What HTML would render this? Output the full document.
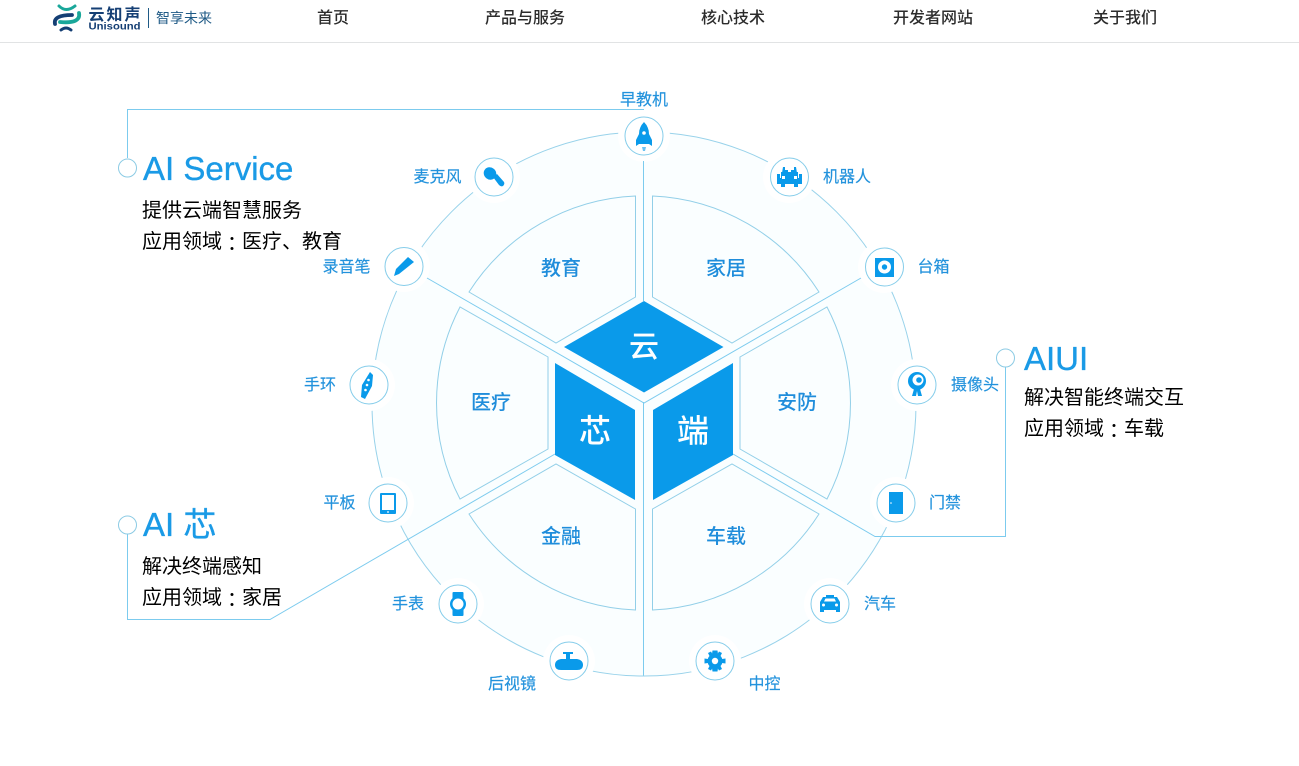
<!DOCTYPE html>
<html><head><meta charset="utf-8"><style>
html,body{margin:0;padding:0;background:#fff}
svg{display:block}
text{font-family:"Liberation Sans","Noto Sans CJK SC",sans-serif}
.n{font-size:16px;fill:#2c2c2c;text-anchor:middle;font-weight:500}
.l{font-size:16px;fill:#2292dc;text-anchor:middle;font-weight:400;stroke:#2292dc;stroke-width:.15}
.s{font-size:20px;fill:#1f8ddb;text-anchor:middle;font-weight:500}
.h{font-size:32px;fill:#fff;text-anchor:middle;font-weight:500}
.t{font-size:33px;fill:#1a9ae6;stroke:#1a9ae6;stroke-width:.35}
.d{font-size:20px;fill:#000}
.c{font-family:"Liberation Sans","Noto Sans CJK TC",sans-serif}
</style></head><body>
<svg width="1299" height="766" viewBox="0 0 1299 766" xmlns="http://www.w3.org/2000/svg">
<rect width="1299" height="766" fill="#fff"/>
<rect y="42" width="1299" height="1" fill="#e1e3e4"/>
<!-- logo -->
<g fill="none" stroke-linecap="round">
<path d="M59 6Q66 13 75 6" stroke="#1aa79a" stroke-width="3"/>
<path d="M55 24Q53 15 72 15" stroke="#153f74" stroke-width="3.800"/>
<path d="M79 13Q81 24 60 22" stroke="#1aa79a" stroke-width="3.800"/>
<path d="M61 30Q66 26 71 30" stroke="#153f74" stroke-width="3"/>
</g>
<text x="88.500" y="20" font-size="16" font-weight="700" fill="#153f74" textLength="52">云知声</text>
<text x="88.500" y="29.500" font-size="10" font-weight="700" fill="#153f74" textLength="52" lengthAdjust="spacingAndGlyphs">Unisound</text>
<rect x="148" y="8" width="1" height="20" fill="#1f5a86"/>
<text x="156" y="23" font-size="14" fill="#1f5a86">智享未来</text>
<text class="n" x="333" y="23">首页</text>
<text class="n" x="525" y="23">产品与服务</text>
<text class="n" x="733" y="23">核心技术</text>
<text class="n" x="933" y="23">开发者网站</text>
<text class="n" x="1125" y="23">关于我们</text>

<!-- main disc -->
<circle cx="644" cy="404" r="272" fill="#fafeff" stroke="#98d2ea" stroke-width="1"/>
<g fill="#fff">
<circle cx="644" cy="136" r="26"/><circle cx="494" cy="177" r="26"/><circle cx="789" cy="177" r="26"/>
<circle cx="404" cy="266" r="26"/><circle cx="884" cy="267" r="26"/><circle cx="369" cy="385" r="26"/>
<circle cx="917" cy="385" r="26"/><circle cx="388" cy="503" r="26"/><circle cx="896" cy="503" r="26"/>
<circle cx="458" cy="604" r="26"/><circle cx="830" cy="604" r="26"/><circle cx="569" cy="661" r="26"/>
<circle cx="715" cy="661" r="26"/>
</g>
<!-- dividers -->
<g fill="none" stroke="#7ccbee" stroke-width="1">
<path d="M643.500 161V301M643.500 402V675.500"/>
<path d="M427 278L644 403L861 278"/>
<path d="M127.500 158V109.500H644"/>
<path d="M127.500 534V619.500H270L555 454"/>
<path d="M733 454L875 536.500H1005.500V367"/>
</g>
<circle cx="127.500" cy="168" r="9" fill="#fff" stroke="#8ccbe4"/>
<circle cx="127.500" cy="525" r="9" fill="#fff" stroke="#8ccbe4"/>
<circle cx="1005.500" cy="358" r="9" fill="#fff" stroke="#8ccbe4"/>
<!-- sectors -->
<g fill="#fafeff" stroke="#92cfe8" stroke-width="1" stroke-linejoin="miter">
<path d="M635.500 297V196A208 208 0 0 0 469 292L556 343Z"/>
<path d="M652.500 297V196A208 208 0 0 1 819 292L732 343Z"/>
<path d="M548 357L460 307A208 208 0 0 0 460 499L548 449Z"/>
<path d="M740 357L827 307A208 208 0 0 1 827 499L740 449Z"/>
<path d="M635.500 509L556 464L469 514A208 208 0 0 0 635.500 610Z"/>
<path d="M652.500 509L732 464L819 514A208 208 0 0 1 652.500 610Z"/>
</g>
<!-- hexagon -->
<g fill="#0a9aea">
<path d="M644 301L723.500 347L644 392.500L564 347Z"/>
<path d="M555 363L635 410V500L555 455Z"/>
<path d="M733 363L653 410V500L733 455Z"/>
</g>
<text class="h" x="644" y="357" style="font-size:30px">云</text>
<text class="h" x="595" y="442">芯</text>
<text class="h" x="693" y="442">端</text>
<text class="s" x="561" y="275">教育</text>
<text class="s" x="726" y="275">家居</text>
<text class="s" x="491" y="409">医疗</text>
<text class="s" x="797" y="409">安防</text>
<text class="s" x="561" y="543">金融</text>
<text class="s" x="726" y="543">车载</text>
<!-- node rings -->
<g fill="#fff" stroke="#86cdea" stroke-width="1">
<circle cx="644" cy="136" r="19"/><circle cx="494" cy="177" r="19"/><circle cx="789.500" cy="177" r="19"/>
<circle cx="404" cy="266.500" r="19"/><circle cx="884.500" cy="267" r="19"/><circle cx="369" cy="385" r="19"/>
<circle cx="917" cy="385" r="19"/><circle cx="388" cy="503" r="19"/><circle cx="896" cy="503" r="19"/>
<circle cx="458" cy="604" r="19"/><circle cx="830" cy="604" r="19"/><circle cx="569" cy="661" r="19"/>
<circle cx="715" cy="661" r="19"/>
</g>
<!-- icons -->
<g fill="#0a9aea">
<path d="M644 122Q649 127 649 134V144H639V134Q639 127 644 122Z"/>
<path d="M639 134L636 140V146L639 144ZM649 134L652 140V146L649 144Z"/>
<path d="M642 147H646L645 151H643Z" opacity=".6"/>
<ellipse cx="490" cy="173.500" rx="6.500" ry="6" transform="rotate(40 490 173.500)"/>
<path d="M493 177L497 174L504 182Q505 184 503 186Q501 187 499 185Z"/>
<path d="M777 178H802V184H798V187H794V184H785V187H781V184H777Z"/>
<path d="M781 172H798V181H781Z"/>
<path d="M783 167H785V170H788V173H782ZM796 167H794V170H791V173H797Z"/>
<path d="M777 174H780V181H777ZM799 174H802V181H799Z"/>
<path d="M408 257L414 262L399 274L394 276L396 269Z"/>
<rect x="875" y="258" width="19" height="19"/>
<path d="M370 372L373 375L372 386L365 399L361 397L362 385Z"/>
<path d="M912 396L914 389H920L922 396H918L917 391L916 396Z"/>
<circle cx="917" cy="381" r="9"/>
<rect x="380" y="493" width="16" height="21" rx="1"/>
<rect x="889" y="492" width="14" height="22"/>
<rect x="452.500" y="592" width="11" height="24" rx="1"/>
<circle cx="458" cy="604" r="8"/>
<path d="M820 602L823 597H826V595H834V597H837L840 602Q840 609 840 612H836V610H824V612H820Z"/>
<circle cx="715" cy="661" r="7.500"/>
<path d="M712.500 650.500H717.500L718 654H712ZM712.500 671.500H717.500L718 668H712ZM704.500 658.500V663.500L708 663V659ZM725.500 658.500V663.500L722 663V659Z"/>
<path d="M708 653L711 651.500L713 655L710 657ZM722 653L719 651.500L717 655L720 657ZM708 669L711 670.500L713 667L710 665ZM722 669L719 670.500L717 667L720 665Z"/>
<path d="M555 665Q555 660 561 659H577Q583 660 583 665Q583 670 577 670H561Q555 670 555 665Z"/>
<path d="M563 652H573V654H570V659H566V654H563Z"/>
</g>
<g fill="#fff">
<circle cx="644" cy="133" r="1.800"/>
<circle cx="884.500" cy="267" r="6.500"/>
<rect x="382" y="495" width="12" height="15"/>
<circle cx="388" cy="512" r=".9"/>
<circle cx="891" cy="503" r=".8"/>
<circle cx="458" cy="604" r="5.500"/>
<circle cx="715" cy="661" r="3.200"/>
<circle cx="918" cy="380" r="5.500"/>
<circle cx="823.500" cy="605" r="1.500"/><circle cx="836.500" cy="605" r="1.500"/>
<path d="M824 601.500L825.500 598.500H834.500L836 601.500Z"/>
<circle cx="368.500" cy="380" r="1.300"/><circle cx="367" cy="385" r="1.300"/><circle cx="365.500" cy="390" r="1.300"/>
<rect x="782" y="176" width="3" height="3"/><rect x="794" y="176" width="3" height="3"/>
</g>
<circle cx="884.500" cy="267" r="2.700" fill="#0a9aea"/>
<circle cx="919" cy="380" r="2.800" fill="#0a9aea"/>
<!-- labels -->
<text class="l" x="644" y="105">早教机</text>
<text class="l" x="437.500" y="182">麦克风</text>
<text class="l" x="847" y="182">机器人</text>
<text class="l" x="346.500" y="272">录音笔</text>
<text class="l" x="933.500" y="272">台箱</text>
<text class="l" x="320" y="390">手环</text>
<text class="l" x="975" y="390">摄像头</text>
<text class="l" x="339.500" y="508">平板</text>
<text class="l" x="945" y="508">门禁</text>
<text class="l" x="408" y="609">手表</text>
<text class="l" x="880" y="609">汽车</text>
<text class="l" x="512" y="689">后视镜</text>
<text class="l" x="764.500" y="689">中控</text>
<!-- callouts -->
<text class="t" x="143" y="180">AI Service</text>
<text class="d" x="142" y="217">提供云端智慧服务</text>
<text class="d" x="142" y="248">应用领域<tspan class="c" dy="3">：</tspan><tspan dy="-3">医疗、教育</tspan></text>
<text class="t" x="143" y="536">AI 芯</text>
<text class="d" x="142" y="573">解决终端感知</text>
<text class="d" x="142" y="604">应用领域<tspan class="c" dy="3">：</tspan><tspan dy="-3">家居</tspan></text>
<text class="t" x="1024" y="370">AIUI</text>
<text class="d" x="1024" y="404">解决智能终端交互</text>
<text class="d" x="1024" y="435">应用领域<tspan class="c" dy="3">：</tspan><tspan dy="-3">车载</tspan></text>
</svg>
</body></html>
